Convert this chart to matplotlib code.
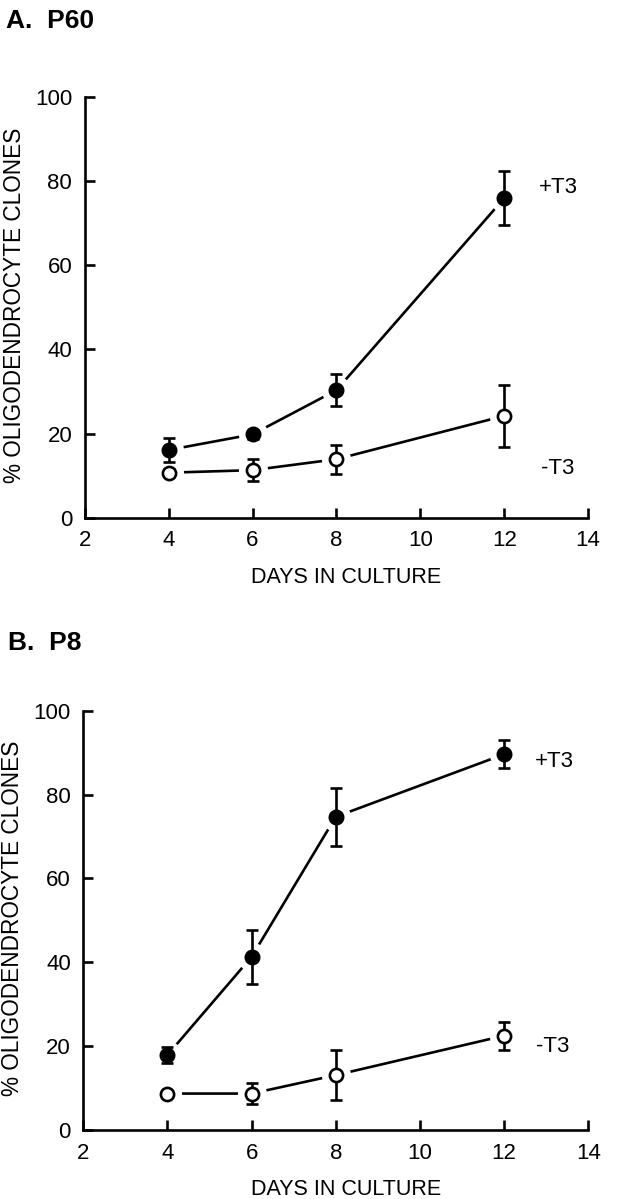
import numpy as np
import matplotlib
matplotlib.use("Agg")
import matplotlib.pyplot as plt

plt.rcParams["font.family"] = ["Liberation Sans", "DejaVu Sans"]
plt.rcParams["font.size"] = 16

# data
days = [4, 6, 8, 12]

# panel A: P60
p60_plus = [16.1, 19.8, 30.3, 75.9]
p60_plus_err = [2.8, 1.0, 3.8, 6.4]
p60_minus = [10.7, 11.3, 13.9, 24.2]
p60_minus_err = [0.8, 2.6, 3.4, 7.4]

# panel B: P8
p8_plus = [17.9, 41.3, 74.7, 89.6]
p8_plus_err = [1.8, 6.4, 6.9, 3.3]
p8_minus = [8.7, 8.7, 13.1, 22.5]
p8_minus_err = [0.5, 2.5, 5.9, 3.3]

titles = ["A.  P60", "B.  P8"]
series_labels = ["+T3", "-T3"]

LW = 1.9


def draw_panel(ax, plus, plus_err, minus, minus_err, label_pos):
    for ys in (plus, minus):
        ax.plot(days, ys, color="black", lw=LW, zorder=1, clip_on=False)
        # white halo leaves a small gap between line and marker
        ax.plot(days, ys, ls="none", marker="o", ms=21, mfc="white",
                mec="none", zorder=2, clip_on=False)
    for ys, err in ((plus, plus_err), (minus, minus_err)):
        ax.errorbar(days, ys, yerr=err, fmt="none", ecolor="black",
                    elinewidth=LW, capsize=4.5, capthick=LW, zorder=3,
                    clip_on=False)
    ax.plot(days, plus, ls="none", marker="o", ms=10.5, mfc="black",
            mec="black", zorder=4, clip_on=False)
    ax.plot(days, minus, ls="none", marker="o", ms=9.5, mfc="white",
            mec="black", mew=LW, zorder=4, clip_on=False)

    for (x, y), txt in zip(label_pos, series_labels):
        ax.text(x, y, txt, ha="left", va="center", fontsize=16)

    ax.set_xlim(2, 14)
    ax.set_ylim(0, 100)
    ax.set_xticks(range(2, 15, 2))
    ax.set_yticks(range(0, 101, 20))
    for side in ("top", "right"):
        ax.spines[side].set_visible(False)
    for side in ("left", "bottom"):
        ax.spines[side].set_linewidth(LW)
    ax.tick_params(direction="in", length=7, width=LW, pad=9, labelsize=16)
    ax.set_xlabel("DAYS IN CULTURE", fontsize=15.5)
    ax.set_ylabel("% OLIGODENDROCYTE CLONES", fontsize=16.3)
    ax.xaxis.set_label_coords(0.52, -0.117)
    ax.yaxis.set_label_coords(-0.117, 0.505)


fig = plt.figure(figsize=(6.23, 11.99), dpi=100)
ax_a = fig.add_axes([0.136, 0.5682, 0.808, 0.3511])
ax_b = fig.add_axes([0.1337, 0.0575, 0.8106, 0.3498])

draw_panel(ax_a, p60_plus, p60_plus_err, p60_minus, p60_minus_err,
           [(12.82, 78.5), (12.87, 11.7)])
draw_panel(ax_b, p8_plus, p8_plus_err, p8_minus, p8_minus_err,
           [(12.73, 87.8), (12.76, 20.0)])

fig.text(6 / 623, 1 - 28 / 1199, titles[0], fontsize=19, fontweight="bold",
         ha="left", va="baseline")
fig.text(8 / 623, 1 - 650 / 1199, titles[1], fontsize=19, fontweight="bold",
         ha="left", va="baseline")

fig.savefig("out.png", dpi=100)
